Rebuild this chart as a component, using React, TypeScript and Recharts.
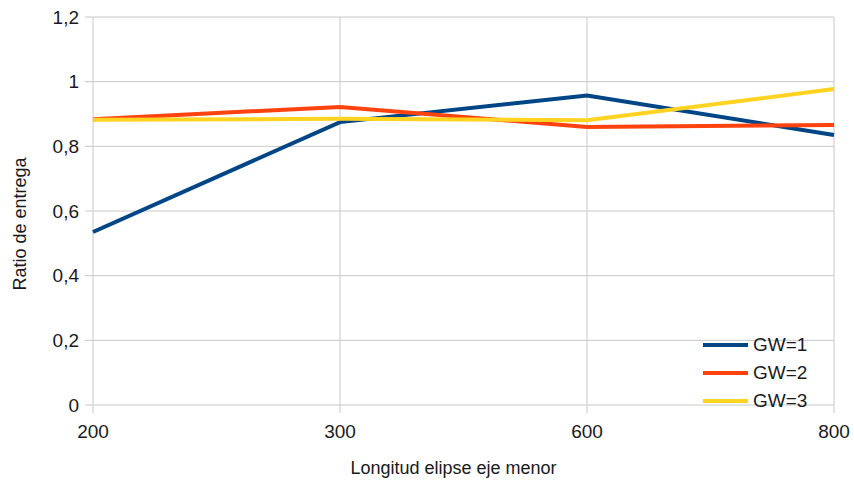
import React from "react";
import { LineChart, Line, XAxis, YAxis, CartesianGrid, Label } from "recharts";

const categories = ["200", "300", "600", "800"];
const gw1 = [0.535, 0.875, 0.957, 0.835];
const gw2 = [0.884, 0.922, 0.86, 0.866];
const gw3 = [0.882, 0.885, 0.881, 0.977];
const yTicks = [0, 0.2, 0.4, 0.6, 0.8, 1, 1.2];

const seriesInfo = [
  { key: "gw1", name: "GW=1", color: "#004586" },
  { key: "gw2", name: "GW=2", color: "#ff420e" },
  { key: "gw3", name: "GW=3", color: "#ffd320" },
];

const data = categories.map((c, i) => ({ cat: c, gw1: gw1[i], gw2: gw2[i], gw3: gw3[i] }));

const FONT = "'Liberation Sans', Arial, sans-serif";
const TEXT = "#1a1a1a";
const fmt = (v: number) => String(v).replace(".", ",");

// Legend block sitting inside the lower-right corner of the plot
const LegendBox = () => (
  <div
    style={{
      position: "absolute",
      left: 703,
      top: 331,
      fontFamily: FONT,
      fontSize: 19,
      color: TEXT,
      lineHeight: "28px",
    }}
  >
    {seriesInfo.map((s) => (
      <div key={s.key} style={{ display: "flex", alignItems: "center", height: 28 }}>
        <div style={{ width: 45, height: 4, background: s.color, marginRight: 5 }} />
        <span>{s.name}</span>
      </div>
    ))}
  </div>
);

const YTitle = (props: any) => {
  const vb = props.viewBox || { x: 0, y: 0, width: 0, height: 0 };
  const x = vb.x + 20;
  const y = vb.y + vb.height / 2 + 13;
  return (
    <text
      x={x}
      y={y}
      transform={`rotate(-90 ${x} ${y})`}
      textAnchor="middle"
      dominantBaseline="central"
      fill={TEXT}
      fontSize={18}
      fontFamily={FONT}
    >
      Ratio de entrega
    </text>
  );
};

const XTitle = (props: any) => {
  const vb = props.viewBox || { x: 0, y: 0, width: 0, height: 0 };
  const x = vb.x + vb.width / 2 - 10;
  const y = vb.y + 69;
  return (
    <text x={x} y={y} textAnchor="middle" fill={TEXT} fontSize={18} fontFamily={FONT}>
      Longitud elipse eje menor
    </text>
  );
};

export default function App() {
  return (
    <div style={{ position: "absolute", left: 0, top: 0, width: 854, height: 480, background: "#fff" }}>
      <LineChart
        width={854}
        height={480}
        data={data}
        margin={{ top: 17, right: 20, left: 0, bottom: 0 }}
      >
        <CartesianGrid stroke="#c8c8c8" strokeWidth={1} />
        <XAxis
          dataKey="cat"
          height={75}
          axisLine={false}
          tickLine={{ stroke: "#c8c8c8" }}
          tickSize={8}
          tickMargin={12}
          tick={{ fill: TEXT, fontSize: 19, fontFamily: FONT }}
          interval={0}
        >
          <Label content={<XTitle />} />
        </XAxis>
        <YAxis
          width={93}
          domain={[0, 1.2]}
          ticks={yTicks}
          interval={0}
          axisLine={false}
          tickLine={{ stroke: "#c8c8c8" }}
          tickSize={8}
          tickMargin={6}
          tickFormatter={fmt}
          tick={{ fill: TEXT, fontSize: 19, fontFamily: FONT }}
        >
          <Label content={<YTitle />} />
        </YAxis>
        {seriesInfo.map((s) => (
          <Line
            key={s.key}
            type="linear"
            dataKey={s.key}
            name={s.name}
            stroke={s.color}
            strokeWidth={4}
            dot={false}
            activeDot={false}
            isAnimationActive={false}
          />
        ))}
      </LineChart>
      <LegendBox />
    </div>
  );
}
